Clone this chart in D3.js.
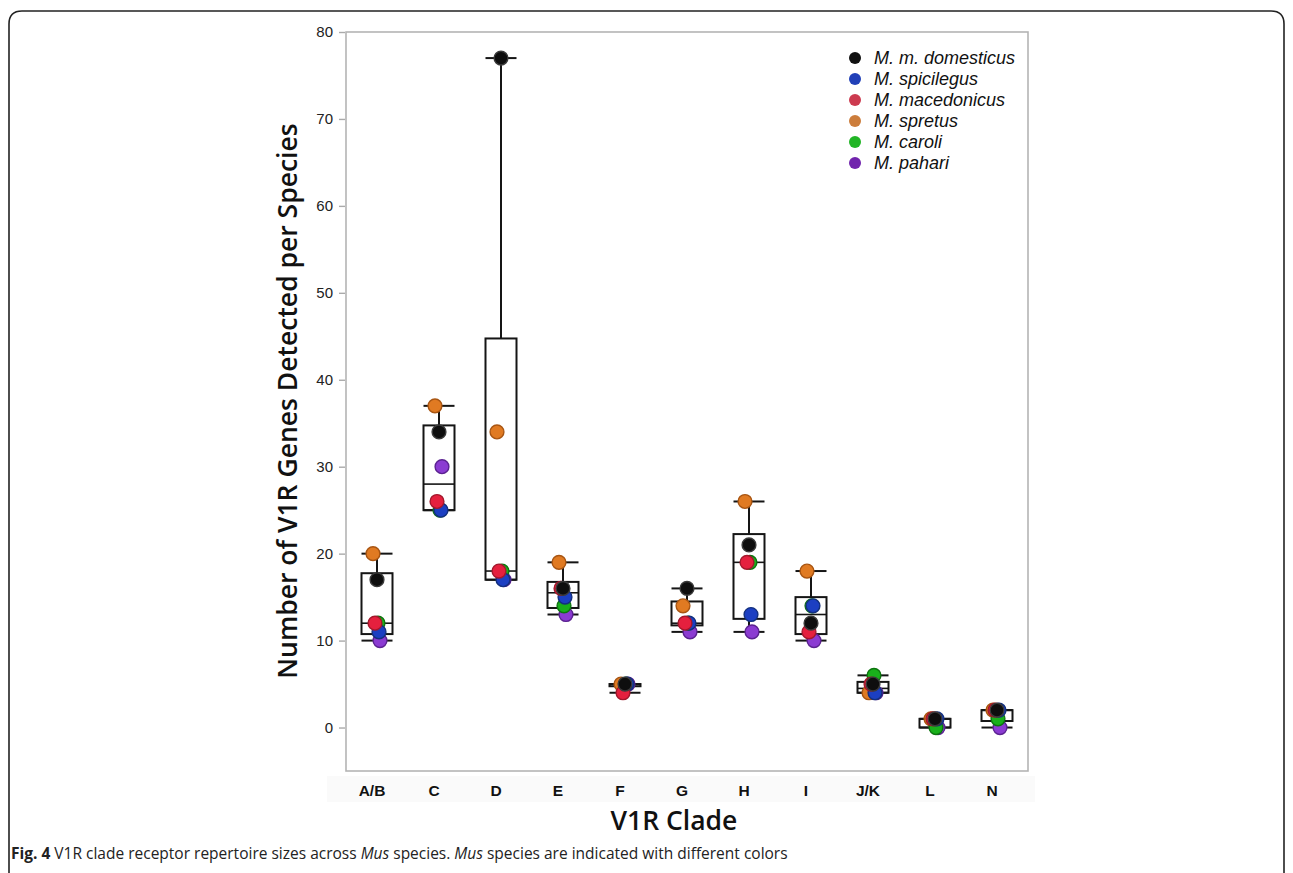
<!DOCTYPE html>
<html>
<head>
<meta charset="utf-8">
<script src="https://cdn.jsdelivr.net/npm/d3@7"></script>
<style>
  body { margin: 0; background: #fff; }
  svg { display: block; }
</style>
</head>
<body>
<svg width="1293" height="873"></svg>
<script>
// clades on the x axis
const clades = ["A/B", "C", "D", "E", "F", "G", "H", "I", "J/K", "L", "N"];

// species, same order as the legend
const species = ["M. m. domesticus", "M. spicilegus", "M. macedonicus", "M. spretus", "M. caroli", "M. pahari"];

// gene counts per clade, one array per species
const domesticus  = [17, 34, 77, 16, 5, 16, 21, 12, 5, 1, 2];
const spicilegus  = [11, 25, 17, 15, 5, 12, 13, 14, 4, 1, 2];
const macedonicus = [12, 26, 18, 16, 4, 12, 19, 11, 5, 1, 2];
const spretus     = [20, 37, 34, 19, 5, 14, 26, 18, 4, 1, 2];
const caroli      = [12, 25, 18, 14, 5, 12, 19, 14, 6, 0, 1];
const pahari      = [10, 30, 17, 13, 5, 11, 11, 10, 4, 0, 0];

const yTicks = [0, 10, 20, 30, 40, 50, 60, 70, 80];

const series = [domesticus, spicilegus, macedonicus, spretus, caroli, pahari];

// colori dei punti
const fill   = ["#0e0e0e", "#1c3fc2", "#e5203e", "#e07a22", "#19b01b", "#8b3bd2"];
const stroke = ["#3a3a3a", "#13307e", "#a3182c", "#a85512", "#0d740f", "#5b2291"];
const legendFill = ["#111111", "#2140b8", "#cc3a4f", "#cc7d3c", "#22b526", "#7124ad"];
// piccolo spostamento orizzontale per specie, così i punti non si coprono del tutto
const jitter = [0, 2, -2, -4, 1, 3];
// ordine di disegno (dal fondo verso l'alto)
const drawOrder = [5, 3, 4, 1, 2, 0];

const svg = d3.select("svg");

// cornice esterna con angoli arrotondati
svg.append("path")
  .attr("d", "M9,880 L9,24 Q9,11 22,11 L1271,11 Q1284,11 1284,24 L1284,880")
  .attr("fill", "none")
  .attr("stroke", "#222")
  .attr("stroke-width", 1.6);

const plot = { left: 346, right: 1028, top: 32, bottom: 771 };

const x = d3.scaleBand()
  .domain(clades)
  .range([plot.left, plot.right])
  .paddingInner(0.5)
  .paddingOuter(0.25);

const y = d3.scaleLinear()
  .domain([-5, 80])
  .range([plot.bottom, plot.top]);

// fondo grigio chiarissimo dietro le etichette delle x
svg.append("rect")
  .attr("x", 327).attr("y", 776)
  .attr("width", 708).attr("height", 26)
  .attr("fill", "#fafafa");

// riquadro del grafico
svg.append("rect")
  .attr("x", plot.left).attr("y", plot.top)
  .attr("width", plot.right - plot.left).attr("height", plot.bottom - plot.top)
  .attr("fill", "none")
  .attr("stroke", "#b4b4b4")
  .attr("stroke-width", 1.6);

// asse y
const yAxis = svg.append("g")
  .attr("transform", `translate(${plot.left - 1},0)`)
  .call(d3.axisLeft(y).tickValues(yTicks).tickSize(6).tickPadding(6));
yAxis.select(".domain").remove();
yAxis.selectAll(".tick line").attr("stroke", "#aaa").attr("stroke-width", 1.4);
yAxis.selectAll(".tick text")
  .attr("fill", "#222")
  .style("font-family", "'Liberation Sans', Arial, sans-serif")
  .style("font-size", "15px");

// asse x (solo etichette)
const xAxis = svg.append("g")
  .attr("transform", `translate(-5,${plot.bottom})`)
  .call(d3.axisBottom(x).tickSize(0).tickPadding(14));
xAxis.select(".domain").remove();
xAxis.selectAll(".tick text")
  .attr("fill", "#111")
  .style("font-family", "'Liberation Sans', Arial, sans-serif")
  .style("font-weight", "bold")
  .style("font-size", "15.5px");

// quartili come in SPSS: posizione (n+1)p con media pesata
function quant(sorted, p) {
  const pos = (sorted.length + 1) * p;
  const i = Math.floor(pos);
  if (i < 1) return sorted[0];
  if (i >= sorted.length) return sorted[sorted.length - 1];
  return sorted[i - 1] + (pos - i) * (sorted[i] - sorted[i - 1]);
}

const boxes = clades.map((c, i) => {
  const vals = series.map(s => s[i]).sort((a, b) => a - b);
  return {
    clade: c,
    min: vals[0],
    max: vals[vals.length - 1],
    q1: quant(vals, 0.25),
    med: quant(vals, 0.5),
    q3: quant(vals, 0.75)
  };
});

const bw = x.bandwidth();
const g = svg.append("g").attr("stroke", "#151515").attr("fill", "none");

const box = g.selectAll("g")
  .data(boxes)
  .join("g")
  .attr("transform", d => `translate(${x(d.clade)},0)`);

// baffi
box.append("line")
  .attr("x1", bw / 2).attr("x2", bw / 2)
  .attr("y1", d => y(d.max)).attr("y2", d => y(d.q3))
  .attr("stroke-width", 2);
box.append("line")
  .attr("x1", bw / 2).attr("x2", bw / 2)
  .attr("y1", d => y(d.q1)).attr("y2", d => y(d.min))
  .attr("stroke-width", 2);
box.append("line")
  .attr("x1", 0).attr("x2", bw)
  .attr("y1", d => y(d.max)).attr("y2", d => y(d.max))
  .attr("stroke-width", 2);
box.append("line")
  .attr("x1", 0).attr("x2", bw)
  .attr("y1", d => y(d.min)).attr("y2", d => y(d.min))
  .attr("stroke-width", 2);
// scatola
box.append("rect")
  .attr("x", 0).attr("width", bw)
  .attr("y", d => y(d.q3))
  .attr("height", d => y(d.q1) - y(d.q3))
  .attr("stroke-width", 2);
// mediana
box.append("line")
  .attr("x1", 0).attr("x2", bw)
  .attr("y1", d => y(d.med)).attr("y2", d => y(d.med))
  .attr("stroke-width", 1.6);

// punti
const points = [];
drawOrder.forEach(k => {
  clades.forEach((c, i) => {
    points.push({ clade: c, value: series[k][i], k: k });
  });
});

svg.append("g")
  .selectAll("circle")
  .data(points)
  .join("circle")
  .attr("cx", d => x(d.clade) + bw / 2 + jitter[d.k])
  .attr("cy", d => y(d.value))
  .attr("r", 6.9)
  .attr("fill", d => fill[d.k])
  .attr("stroke", d => stroke[d.k])
  .attr("stroke-width", 1.4);

// legenda
const legend = svg.append("g")
  .selectAll("g")
  .data(species)
  .join("g")
  .attr("transform", (d, i) => `translate(855,${58 + i * 21})`);

legend.append("circle")
  .attr("r", 6)
  .attr("fill", (d, i) => legendFill[i]);

legend.append("text")
  .attr("x", 19)
  .attr("dy", "0.36em")
  .text(d => d)
  .style("font-family", "'Liberation Sans', Arial, sans-serif")
  .style("font-style", "italic")
  .style("font-size", "18px")
  .attr("fill", "#111");

// titoli degli assi
svg.append("text")
  .attr("transform", "translate(297,401) rotate(-90)")
  .attr("text-anchor", "middle")
  .text("Number of V1R Genes Detected per Species")
  .style("font-family", "'Open Sans', sans-serif")
  .style("font-weight", "600")
  .style("font-size", "26.5px")
  .attr("fill", "#111");

svg.append("text")
  .attr("x", 674)
  .attr("y", 830)
  .attr("text-anchor", "middle")
  .text("V1R Clade")
  .style("font-family", "'Open Sans', sans-serif")
  .style("font-weight", "600")
  .style("font-size", "26.5px")
  .attr("fill", "#111");

// didascalia
const cap = svg.append("text")
  .attr("x", 11)
  .attr("y", 859)
  .style("font-family", "'Open Sans', sans-serif")
  .style("font-size", "15.5px")
  .attr("fill", "#222");
cap.append("tspan").style("font-weight", "bold").text("Fig. 4");
cap.append("tspan").text(" V1R clade receptor repertoire sizes across ");
cap.append("tspan").style("font-style", "italic").text("Mus");
cap.append("tspan").text(" species. ");
cap.append("tspan").style("font-style", "italic").text("Mus");
cap.append("tspan").text(" species are indicated with different colors");
</script>
</body>
</html>
